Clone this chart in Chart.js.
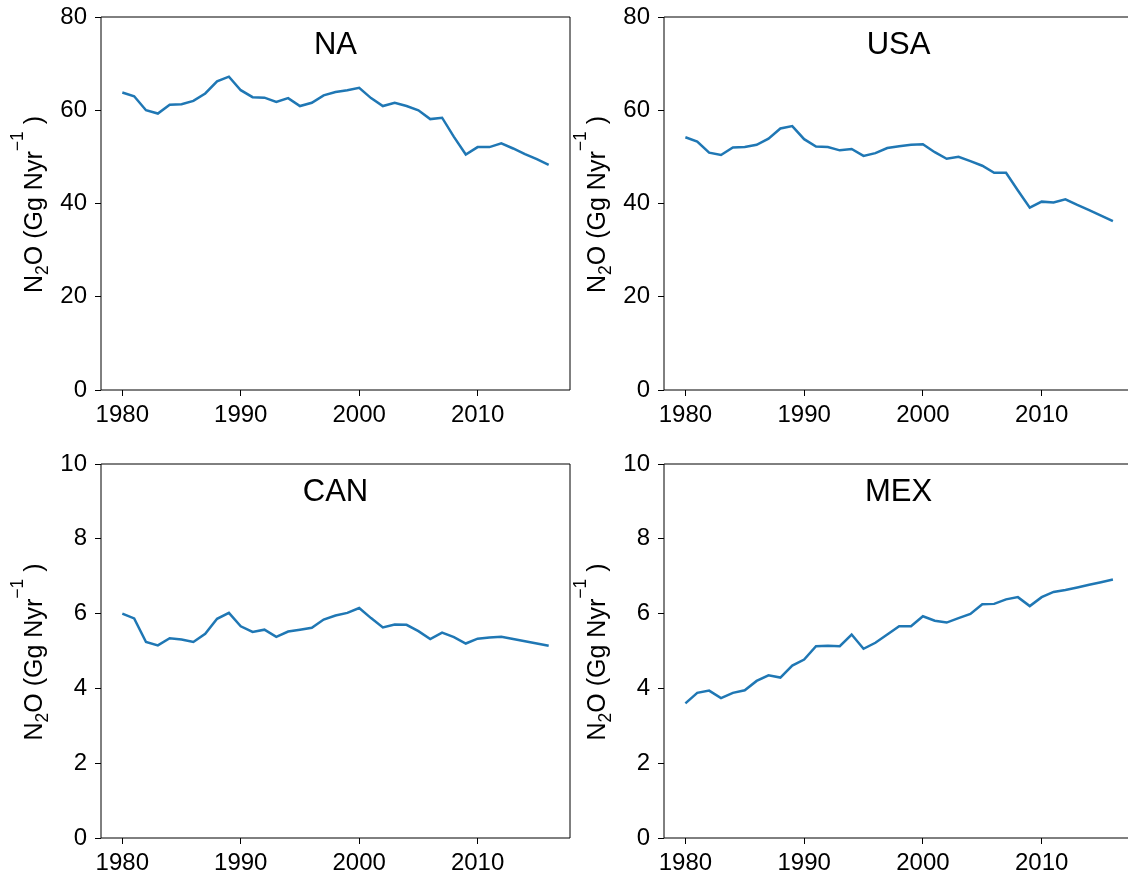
<!DOCTYPE html>
<html>
<head>
<meta charset="utf-8">
<script src="https://cdn.jsdelivr.net/npm/chart.js@4.4.1/dist/chart.umd.min.js"></script>
<style>
  html, body { margin: 0; padding: 0; background: #fff; overflow: hidden; width: 1128px; height: 880px; }
  canvas { position: absolute; }
</style>
</head>
<body>
<canvas id="naChart" width="575" height="450" style="left:0px;top:-10px"></canvas>
<canvas id="usaChart" width="565" height="450" style="left:563px;top:-10px"></canvas>
<canvas id="canChart" width="575" height="440" style="left:0px;top:440px"></canvas>
<canvas id="mexChart" width="565" height="440" style="left:563px;top:440px"></canvas>
<script>
const years = [1980, 1981, 1982, 1983, 1984, 1985, 1986, 1987, 1988, 1989,
  1990, 1991, 1992, 1993, 1994, 1995, 1996, 1997, 1998, 1999,
  2000, 2001, 2002, 2003, 2004, 2005, 2006, 2007, 2008, 2009,
  2010, 2011, 2012, 2013, 2014, 2015, 2016];

const naValues = [63.8, 63.0, 60.0, 59.3, 61.2, 61.3, 62.0, 63.6, 66.2, 67.2,
  64.3, 62.8, 62.7, 61.8, 62.6, 60.9, 61.6, 63.2, 63.9, 64.3,
  64.8, 62.6, 60.9, 61.6, 60.9, 60.0, 58.1, 58.4, 54.3, 50.5,
  52.1, 52.1, 52.9, 51.8, 50.6, 49.5, 48.3];
const usaValues = [54.2, 53.3, 50.9, 50.4, 52.0, 52.1, 52.6, 53.9, 56.1, 56.6,
  53.8, 52.2, 52.1, 51.4, 51.7, 50.2, 50.8, 51.9, 52.3, 52.6,
  52.7, 51.0, 49.6, 50.0, 49.1, 48.1, 46.6, 46.6, 42.8, 39.1,
  40.4, 40.2, 40.9, 39.7, 38.6, 37.4, 36.2];
const canValues = [6.00, 5.87, 5.24, 5.15, 5.34, 5.31, 5.24, 5.46, 5.86, 6.02,
  5.66, 5.51, 5.57, 5.38, 5.52, 5.57, 5.62, 5.84, 5.95, 6.02,
  6.15, 5.88, 5.63, 5.71, 5.70, 5.53, 5.32, 5.49, 5.37, 5.20,
  5.33, 5.36, 5.38, 5.32, 5.26, 5.20, 5.14];
const mexValues = [3.60, 3.88, 3.94, 3.74, 3.88, 3.95, 4.20, 4.35, 4.29, 4.61,
  4.77, 5.13, 5.14, 5.13, 5.44, 5.06, 5.22, 5.44, 5.66, 5.66,
  5.93, 5.81, 5.76, 5.88, 5.99, 6.25, 6.26, 6.38, 6.44, 6.20,
  6.44, 6.58, 6.63, 6.70, 6.77, 6.84, 6.91];

const xTicks = [1980, 1990, 2000, 2010];
const yTicksTop = [0, 20, 40, 60, 80];
const yTicksBottom = [0, 2, 4, 6, 8, 10];

const FONT = "'Liberation Sans', Arial, sans-serif";

// frame, panel name and the mathtext-like y label
const panelDecor = {
  id: "panelDecor",
  afterDraw(chart, args, opts) {
    const { ctx, chartArea: a } = chart;
    ctx.save();
    ctx.strokeStyle = "#000";
    ctx.lineWidth = 1;
    ctx.beginPath();
    ctx.moveTo(a.right, a.top);
    ctx.lineTo(a.left, a.top);
    ctx.lineTo(a.left, a.bottom);
    ctx.lineTo(a.right, a.bottom);
    if (opts.rightSpine) ctx.closePath();
    ctx.stroke();

    ctx.fillStyle = "#000";
    ctx.font = "31px " + FONT;
    ctx.textAlign = "center";
    ctx.textBaseline = "alphabetic";
    ctx.fillText(opts.name, a.left + opts.titleX, a.top + 36.5);

    const size = 25;
    const small = size * 0.7;
    const parts = [
      { t: "N", s: size, dy: 0 },
      { t: "2", s: small, dy: size * 0.24 },
      { t: "O (Gg Nyr", s: size, dy: 0 },
      { t: "\u22121", s: small, dy: -size * 0.78 },
      { t: " )", s: size, dy: 0 },
    ];
    let total = 0;
    parts.forEach((p) => {
      ctx.font = p.s + "px " + FONT;
      p.w = ctx.measureText(p.t).width;
      total += p.w;
    });
    ctx.translate(a.left - 59, (a.top + a.bottom) / 2 + 1);
    ctx.rotate(-Math.PI / 2);
    ctx.textAlign = "left";
    let x = -total / 2;
    parts.forEach((p) => {
      ctx.font = p.s + "px " + FONT;
      ctx.fillText(p.t, x, p.dy);
      x += p.w;
    });
    ctx.restore();
  },
};

function makePanel(id, name, values, yMax, yTicks, topPad, xMax, rightSpine, xAxisH) {
  const ctx = document.getElementById(id).getContext("2d");
  return new Chart(ctx, {
    type: "line",
    data: {
      datasets: [
        {
          data: years.map((yr, i) => ({ x: yr, y: values[i] })),
          borderColor: "#1f77b4",
          borderWidth: 2.5,
          pointRadius: 0,
          tension: 0,
          fill: false,
        },
      ],
    },
    options: {
      responsive: false,
      animation: false,
      devicePixelRatio: 1,
      layout: { autoPadding: false, padding: { top: topPad, right: rightSpine ? 5 : 0, left: 0, bottom: 0 } },
      plugins: {
        legend: { display: false },
        tooltip: { enabled: false },
        panelDecor: { name: name, rightSpine: rightSpine, titleX: 234.5 },
      },
      scales: {
        x: {
          type: "linear",
          min: 1978.2,
          max: xMax,
          afterBuildTicks: (scale) => { scale.ticks = xTicks.map((v) => ({ value: v })); },
          afterFit: (scale) => { scale.height = xAxisH; },
          ticks: {
            color: "#000",
            font: { family: FONT, size: 24 },
            padding: 5,
            maxRotation: 0,
            callback: (v) => String(v),
          },
          grid: { drawOnChartArea: false, tickLength: 6, tickColor: "#000", tickWidth: 1 },
          border: { display: false },
        },
        y: {
          type: "linear",
          min: 0,
          max: yMax,
          afterBuildTicks: (scale) => { scale.ticks = yTicks.map((v) => ({ value: v })); },
          afterFit: (scale) => { scale.width = 101; },
          ticks: {
            color: "#000",
            font: { family: FONT, size: 24 },
            padding: 8,
            callback: (v) => String(v),
          },
          grid: { drawOnChartArea: false, tickLength: 6, tickColor: "#000", tickWidth: 1 },
          border: { display: false },
        },
      },
    },
    plugins: [panelDecor],
  });
}

document.addEventListener("DOMContentLoaded", () => {
  // right column runs past the page edge, so its x range is cut where the page ends
  makePanel("naChart", "NA", naValues, 80, yTicksTop, 27, 2017.8, true, 50);
  makePanel("usaChart", "USA", usaValues, 80, yTicksTop, 27, 2017.27, false, 50);
  makePanel("canChart", "CAN", canValues, 10, yTicksBottom, 24, 2017.8, true, 42);
  makePanel("mexChart", "MEX", mexValues, 10, yTicksBottom, 24, 2017.27, false, 42);
});
</script>
</body>
</html>
